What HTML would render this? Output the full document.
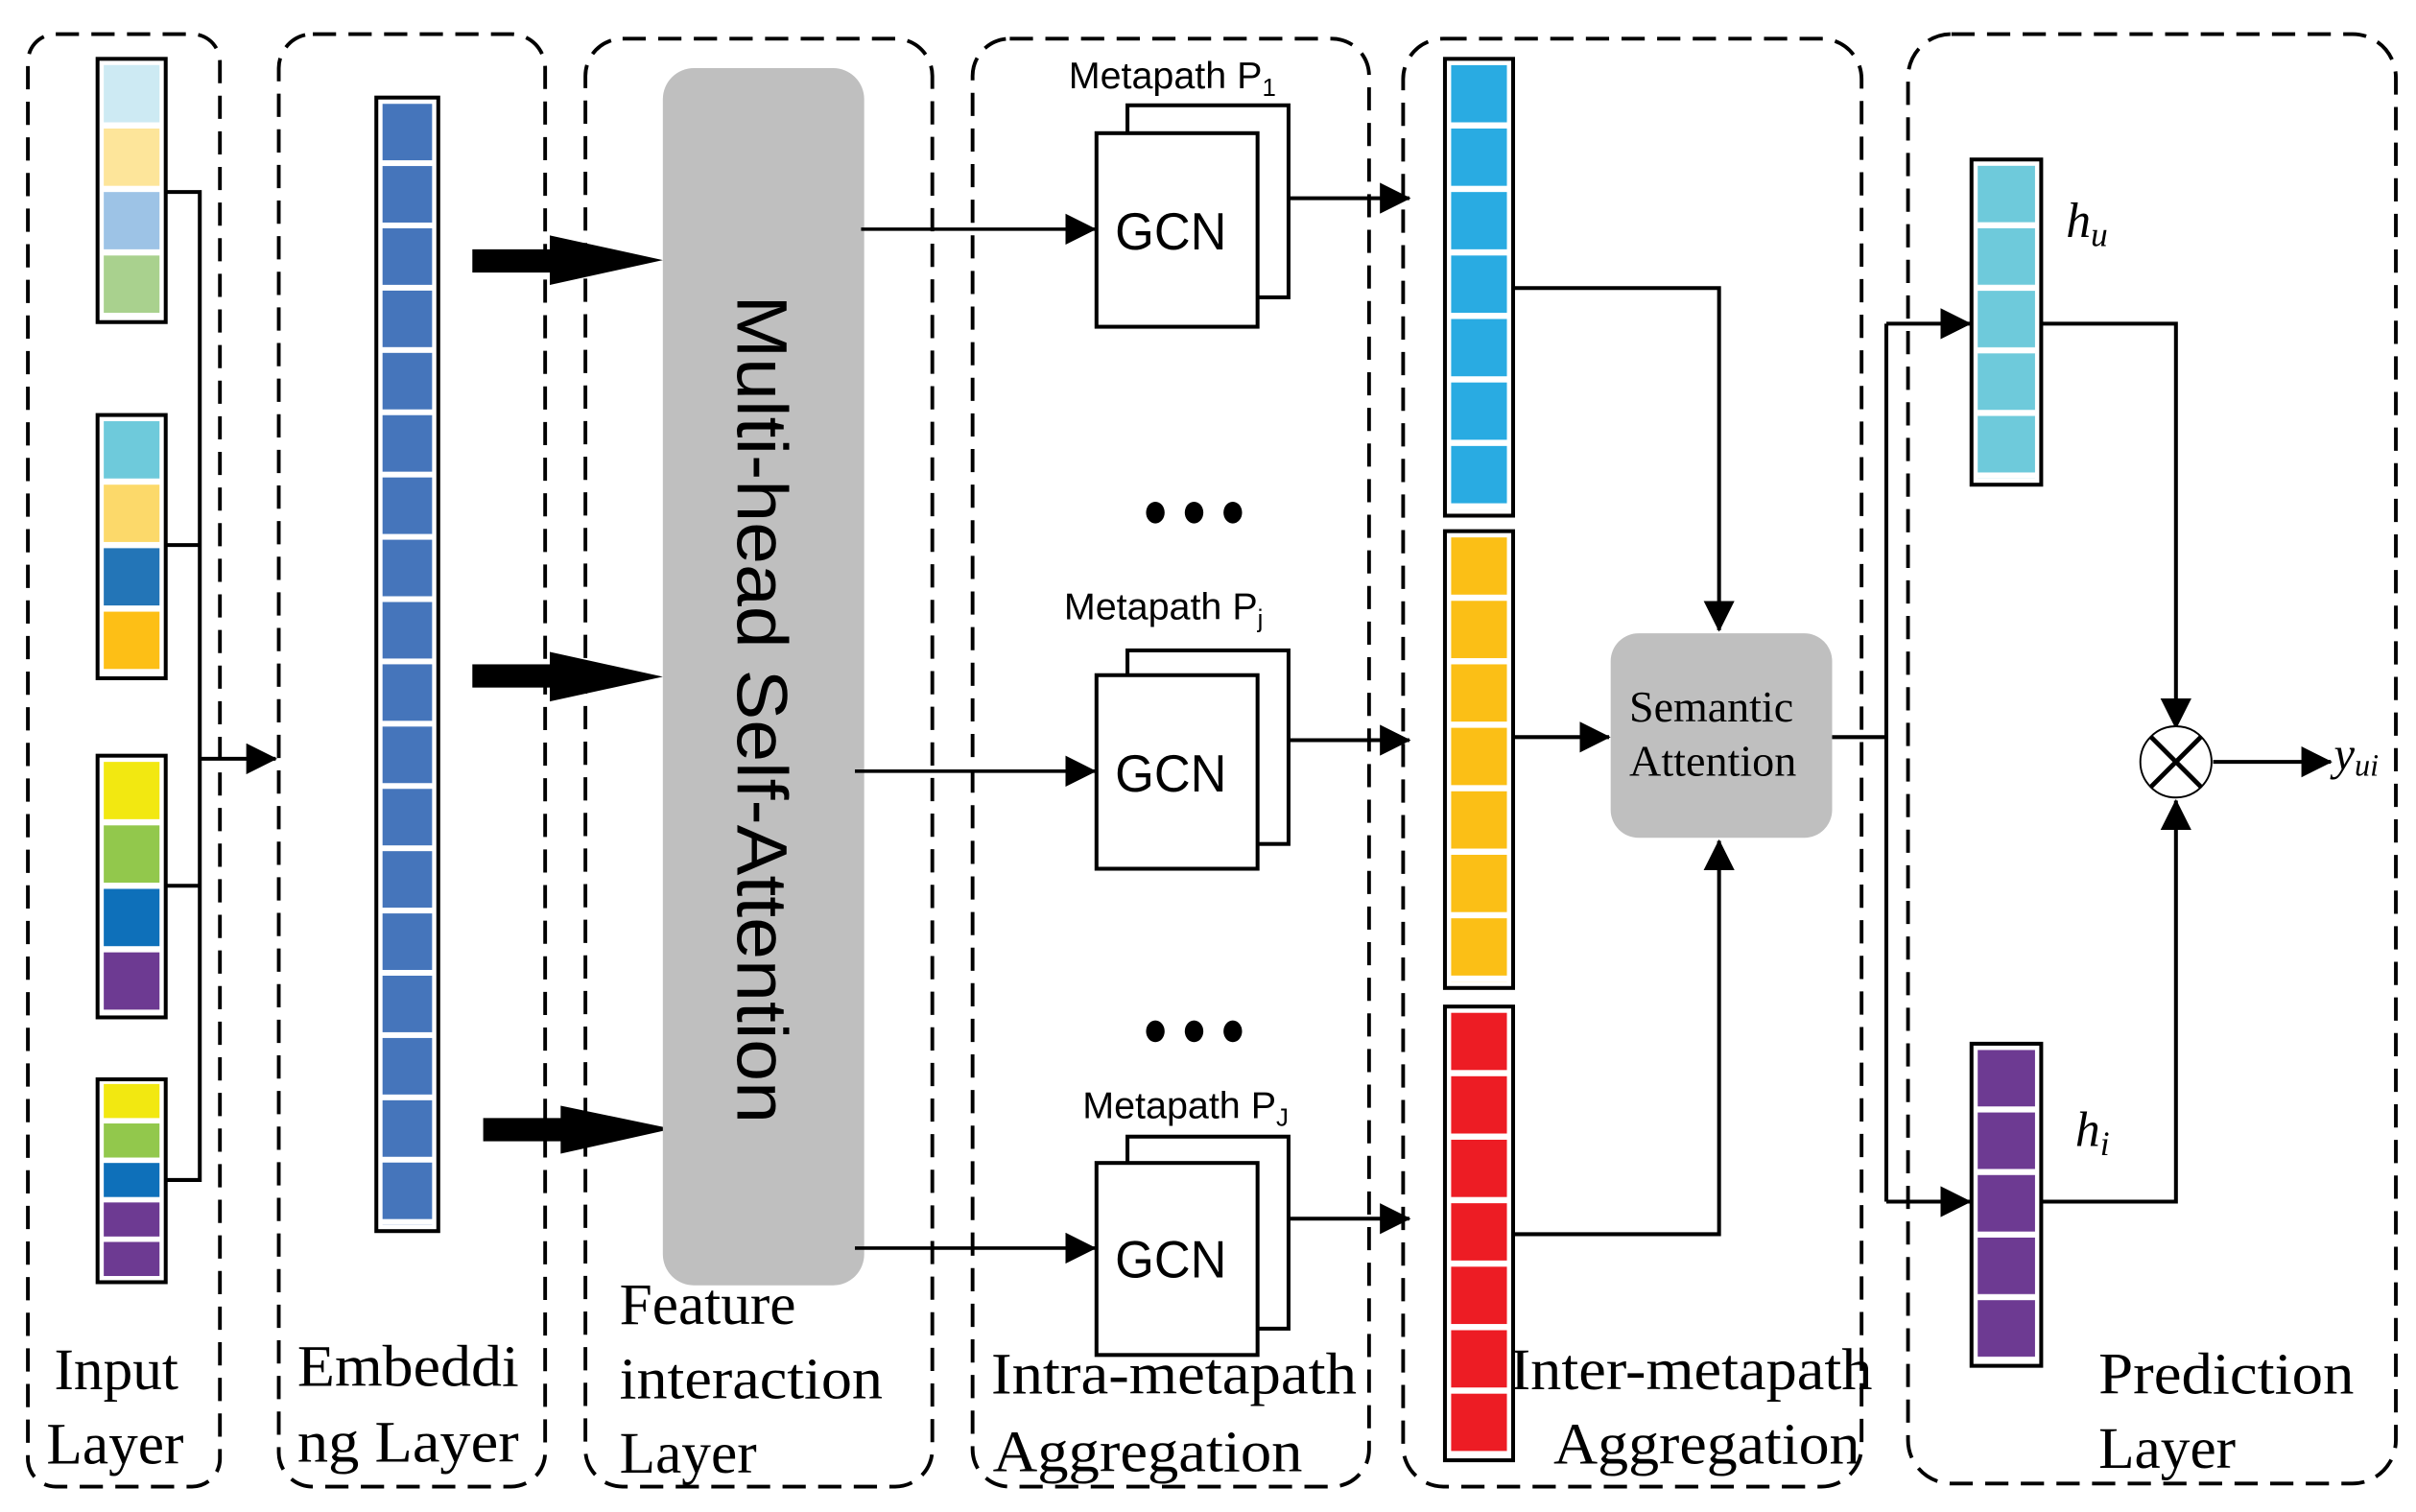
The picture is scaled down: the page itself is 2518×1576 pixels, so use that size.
<!DOCTYPE html>
<html><head><meta charset="utf-8"><style>
html,body{margin:0;padding:0;background:#fff;}
svg{display:block;}
.sv{font-family:"Liberation Serif",serif;}
.sa{font-family:"Liberation Sans","DejaVu Sans",sans-serif;}
</style></head><body>
<svg width="2518" height="1576" viewBox="0 0 1560 976.4" preserveAspectRatio="none" xmlns="http://www.w3.org/2000/svg">
<defs>
<marker id="ab" markerWidth="20" markerHeight="20" refX="19" refY="10" orient="auto" markerUnits="userSpaceOnUse" viewBox="0 0 20 20"><path d="M0,0 L20,10 L0,20 z" fill="#000"/></marker>
<pattern id="pEmb" patternUnits="userSpaceOnUse" x="0" y="67" width="100" height="40.22"><rect x="0" y="0" width="100" height="36.5" fill="#4575bb"/></pattern>
<pattern id="pBlue" patternUnits="userSpaceOnUse" x="0" y="42" width="100" height="41"><rect x="0" y="0" width="100" height="37" fill="#29abe2"/></pattern>
<pattern id="pYel" patternUnits="userSpaceOnUse" x="0" y="347" width="100" height="41"><rect x="0" y="0" width="100" height="37" fill="#fbbf16"/></pattern>
<pattern id="pRed" patternUnits="userSpaceOnUse" x="0" y="654" width="100" height="41"><rect x="0" y="0" width="100" height="37" fill="#ed1c24"/></pattern>
<pattern id="pHu" patternUnits="userSpaceOnUse" x="0" y="107" width="100" height="40.4"><rect x="0" y="0" width="100" height="36.5" fill="#6ecadb"/></pattern>
<pattern id="pHi" patternUnits="userSpaceOnUse" x="0" y="678" width="100" height="40.4"><rect x="0" y="0" width="100" height="36.5" fill="#6d3a92"/></pattern>
</defs>

<g fill="none" stroke="#000" stroke-width="2.4" stroke-dasharray="15 8">
<rect x="18" y="22" width="124" height="938" rx="18"/>
<rect x="180" y="22" width="172" height="938" rx="22"/>
<rect x="378" y="25" width="224" height="935" rx="24"/>
<rect x="628" y="25" width="256" height="935" rx="24"/>
<rect x="906" y="25" width="296" height="935" rx="26"/>
<rect x="1232" y="22" width="315" height="936" rx="28"/>
</g>

<g stroke="#000" stroke-width="2.5" fill="#fff">
<rect x="63" y="38" width="44" height="170"/>
<rect x="63" y="268" width="44" height="170"/>
<rect x="63" y="488" width="44" height="169"/>
<rect x="63" y="697" width="44" height="131"/>
</g>
<g>
<rect x="67" y="42" width="36" height="37" fill="#cdeaf3"/>
<rect x="67" y="83" width="36" height="37" fill="#fde59a"/>
<rect x="67" y="124" width="36" height="37" fill="#9dc3e6"/>
<rect x="67" y="165" width="36" height="37" fill="#a9d18e"/>
<rect x="67" y="272" width="36" height="37" fill="#6ecadb"/>
<rect x="67" y="313" width="36" height="37" fill="#fcd96a"/>
<rect x="67" y="354" width="36" height="37" fill="#2375b7"/>
<rect x="67" y="395" width="36" height="37" fill="#fdbf16"/>
<rect x="67" y="492" width="36" height="37" fill="#f2e811"/>
<rect x="67" y="533" width="36" height="37" fill="#92c84c"/>
<rect x="67" y="574" width="36" height="37" fill="#0e70ba"/>
<rect x="67" y="615" width="36" height="37" fill="#6d3a92"/>
<rect x="67" y="700" width="36" height="22" fill="#f2e811"/>
<rect x="67" y="725.5" width="36" height="22" fill="#92c84c"/>
<rect x="67" y="751" width="36" height="22" fill="#0e70ba"/>
<rect x="67" y="776.5" width="36" height="22" fill="#6d3a92"/>
<rect x="67" y="802" width="36" height="22" fill="#6d3a92"/>
</g>
<g stroke="#000" stroke-width="2.5" fill="none">
<polyline points="107,124 129,124 129,762 107,762"/>
<line x1="107" y1="352" x2="129" y2="352"/>
<line x1="107" y1="572" x2="129" y2="572"/>
<line x1="129" y1="490" x2="178" y2="490" marker-end="url(#ab)"/>
</g>

<rect x="243" y="63" width="40" height="732" fill="#fff" stroke="#000" stroke-width="2.5"/>
<rect x="247" y="67" width="32" height="724" fill="url(#pEmb)"/>

<g fill="#000">
<rect x="305" y="161" width="52" height="15"/><path d="M355,152 L428,168 L355,184 z"/>
<rect x="305" y="429" width="52" height="15"/><path d="M355,421 L428,437 L355,453 z"/>
<rect x="312" y="722" width="52" height="15"/><path d="M362,714 L434,729 L362,745 z"/>
</g>

<rect x="428" y="44" width="130" height="786" rx="20" fill="#bfbfbf"/>
<text class="sa" x="0" y="0" font-size="46" transform="translate(476,458) rotate(90)" text-anchor="middle" textLength="535" lengthAdjust="spacingAndGlyphs">Multi-head Self-Attention</text>

<g stroke="#000" stroke-width="2.2" fill="none">
<line x1="556" y1="148" x2="707" y2="148" marker-end="url(#ab)"/>
<line x1="552" y1="498" x2="707" y2="498" marker-end="url(#ab)"/>
<line x1="552" y1="806" x2="707" y2="806" marker-end="url(#ab)"/>
</g>

<g stroke="#000" stroke-width="2.5" fill="#fff">
<rect x="728" y="68" width="104" height="124"/>
<rect x="708" y="86" width="104" height="125"/>
<rect x="728" y="420" width="104" height="125"/>
<rect x="708" y="436" width="104" height="125"/>
<rect x="728" y="734" width="104" height="124"/>
<rect x="708" y="751" width="104" height="124"/>
</g>
<g class="sa" font-size="34" text-anchor="middle">
<text x="756" y="161" textLength="72" lengthAdjust="spacingAndGlyphs">GCN</text>
<text x="756" y="511" textLength="72" lengthAdjust="spacingAndGlyphs">GCN</text>
<text x="756" y="825" textLength="72" lengthAdjust="spacingAndGlyphs">GCN</text>
</g>
<g class="sa" font-size="24">
<text x="690" y="57"><tspan textLength="125" lengthAdjust="spacingAndGlyphs">Metapath P</tspan><tspan font-size="16" dy="5">1</tspan></text>
<text x="687" y="400"><tspan textLength="125" lengthAdjust="spacingAndGlyphs">Metapath P</tspan><tspan font-size="16" dy="5">j</tspan></text>
<text x="699" y="722"><tspan textLength="125" lengthAdjust="spacingAndGlyphs">Metapath P</tspan><tspan font-size="16" dy="5">J</tspan></text>
</g>
<g fill="#000">
<ellipse cx="746" cy="331" rx="6" ry="7"/><ellipse cx="771" cy="331" rx="6" ry="7"/><ellipse cx="796" cy="331" rx="6" ry="7"/>
<ellipse cx="746" cy="666" rx="6" ry="7"/><ellipse cx="771" cy="666" rx="6" ry="7"/><ellipse cx="796" cy="666" rx="6" ry="7"/>
</g>
<g stroke="#000" stroke-width="2.5" fill="none">
<line x1="832" y1="128" x2="910" y2="128" marker-end="url(#ab)"/>
<line x1="832" y1="478" x2="910" y2="478" marker-end="url(#ab)"/>
<line x1="832" y1="787" x2="910" y2="787" marker-end="url(#ab)"/>
</g>

<g stroke="#000" stroke-width="2.5" fill="#fff">
<rect x="933" y="38" width="44" height="295"/>
<rect x="933" y="343" width="44" height="295"/>
<rect x="933" y="650" width="44" height="293"/>
</g>
<rect x="937" y="42" width="36" height="287" fill="url(#pBlue)"/>
<rect x="937" y="347" width="36" height="287" fill="url(#pYel)"/>
<rect x="937" y="654" width="36" height="285" fill="url(#pRed)"/>

<rect x="1040" y="409" width="143" height="132" rx="18" fill="#bfbfbf"/>
<text class="sv" x="1052" y="466" font-size="28" textLength="106" lengthAdjust="spacingAndGlyphs">Semantic</text>
<text class="sv" x="1052" y="501" font-size="28" textLength="108" lengthAdjust="spacingAndGlyphs">Attention</text>
<g stroke="#000" stroke-width="2.5" fill="none">
<polyline points="977,186 1110,186 1110,407" marker-end="url(#ab)"/>
<line x1="977" y1="476" x2="1039" y2="476" marker-end="url(#ab)"/>
<polyline points="977,797 1110,797 1110,543" marker-end="url(#ab)"/>
<line x1="1183" y1="476" x2="1218" y2="476"/>
<line x1="1218" y1="209" x2="1218" y2="776"/>
<line x1="1218" y1="209" x2="1272" y2="209" marker-end="url(#ab)"/>
<line x1="1218" y1="776" x2="1272" y2="776" marker-end="url(#ab)"/>
</g>

<g stroke="#000" stroke-width="2.5" fill="#fff">
<rect x="1273" y="103" width="45" height="210"/>
<rect x="1273" y="674" width="45" height="208"/>
</g>
<rect x="1277" y="107" width="37" height="202" fill="url(#pHu)"/>
<rect x="1277" y="678" width="37" height="200" fill="url(#pHi)"/>
<text class="sv" x="1334" y="153" font-size="32" font-style="italic">h<tspan font-size="22" dy="6">u</tspan></text>
<text class="sv" x="1340" y="740" font-size="32" font-style="italic">h<tspan font-size="22" dy="6">i</tspan></text>

<g stroke="#000" stroke-width="2.5" fill="none">
<polyline points="1318,209 1405,209 1405,470" marker-end="url(#ab)"/>
<polyline points="1318,776 1405,776 1405,517" marker-end="url(#ab)"/>
<line x1="1429" y1="492" x2="1505" y2="492" marker-end="url(#ab)"/>
</g>
<circle cx="1405" cy="492" r="23" fill="#fff" stroke="#000" stroke-width="1.2"/>
<g stroke="#000" stroke-width="3"><line x1="1389" y1="476" x2="1421" y2="508"/><line x1="1421" y1="476" x2="1389" y2="508"/></g>
<text class="sv" x="1507" y="497" font-size="30" font-style="italic">y<tspan font-size="20" dy="4">ui</tspan></text>

<g class="sv" font-size="38">
<text x="35" y="897">Input</text>
<text x="30" y="945">Layer</text>
<text x="192" y="895" textLength="143" lengthAdjust="spacingAndGlyphs">Embeddi</text>
<text x="192" y="944" textLength="143" lengthAdjust="spacingAndGlyphs">ng Layer</text>
<text x="400" y="855">Feature</text>
<text x="400" y="903" textLength="170" lengthAdjust="spacingAndGlyphs">interaction</text>
<text x="400" y="951">Layer</text>
<text x="640" y="900" textLength="236" lengthAdjust="spacingAndGlyphs">Intra-metapath</text>
<text x="641" y="950" textLength="200" lengthAdjust="spacingAndGlyphs">Aggregation</text>
<text x="975" y="897" textLength="234" lengthAdjust="spacingAndGlyphs">Inter-metapath</text>
<text x="1003" y="945" textLength="198" lengthAdjust="spacingAndGlyphs">Aggregation</text>
<text x="1355" y="900" textLength="165" lengthAdjust="spacingAndGlyphs">Prediction</text>
<text x="1355" y="948">Layer</text>
</g>
</svg>
</body></html>
